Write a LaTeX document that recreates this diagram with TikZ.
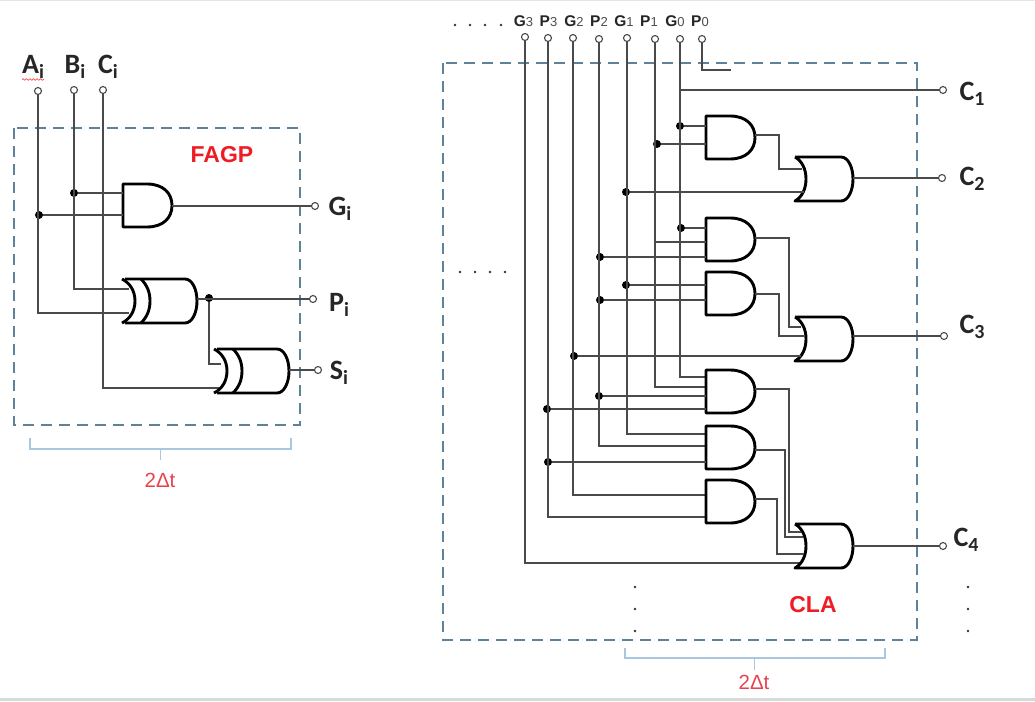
\documentclass[tikz,border=0pt]{standalone}
\usepackage{xcolor}
\usepackage{fontspec}
\setmainfont{Liberation Sans}
\newfontfamily\carlito{Carlito}
\usetikzlibrary{positioning,decorations.pathmorphing}
\definecolor{boxblue}{HTML}{5F8299}
\definecolor{bracketblue}{HTML}{A9C8E0}
\definecolor{wiregray}{HTML}{4A4A4A}
\definecolor{labelred}{HTML}{EE1C25}
\definecolor{timered}{HTML}{E8424F}
\newcommand{\andgate}[4]{%
    % #1=name, #2=left x, #3=top y, #4=output y
    \node[gatebox, minimum width=49pt, minimum height=43pt] (#1) at (#2+24.5,#3+21.5) {};
    \draw[gateline] (#2,#3) -- (#2+24,#3) .. controls (#2+40,#3) and (#2+49,#3+9) .. (#2+49,#3+21.5)
        .. controls (#2+49,#3+34) and (#2+40,#3+43) .. (#2+24,#3+43) -- (#2,#3+43) -- cycle;
    \coordinate (#1-out) at (#2+49,#4);
}
\newcommand{\orgate}[4]{%
    % #1=name, #2=tip x, #3=top y, #4=output y
    \node[gatebox, minimum width=58pt, minimum height=44pt] (#1) at (#2+29,#3+22) {};
    \draw[gateline] (#2,#3) -- (#2+46,#3) .. controls (#2+53,#3) and (#2+58,#3+10) .. (#2+58,#3+22)
        .. controls (#2+58,#3+34) and (#2+53,#3+44) .. (#2+46,#3+44) -- (#2,#3+44)
        .. controls (#2+7,#3+40) and (#2+11,#3+32) .. (#2+11,#3+22)
        .. controls (#2+11,#3+12) and (#2+7,#3+4) .. (#2,#3);
    \coordinate (#1-out) at (#2+58,#4);
}
\newcommand{\xorgate}[4]{%
    % #1=name, #2=tip x, #3=top y, #4=output y
    \node[gatebox, minimum width=76pt, minimum height=44pt] (#1) at (#2+38,#3+22) {};
    \draw[gateline] (#2+3,#3) -- (#2+63,#3) .. controls (#2+70,#3) and (#2+75,#3+10) .. (#2+75,#3+22)
        .. controls (#2+75,#3+34) and (#2+70,#3+44) .. (#2+63,#3+44) -- (#2+3,#3+44);
    \draw[gateline] (#2,#3) .. controls (#2+8,#3+4) and (#2+13,#3+12) .. (#2+13,#3+22)
        .. controls (#2+13,#3+32) and (#2+8,#3+40) .. (#2,#3+44);
    \draw[gateline] (#2+19,#3) .. controls (#2+25,#3+6) and (#2+28,#3+13) .. (#2+28,#3+22)
        .. controls (#2+28,#3+31) and (#2+25,#3+38) .. (#2+19,#3+44);
    \coordinate (#1-out) at (#2+75,#4);
}
\newcommand{\pinname}[2]{#1{\fontsize{13}{13}\selectfont\mdseries\color{black!70}#2}}
\newcommand{\sidename}[2]{#1\raisebox{-5.5pt}{\fontsize{20}{20}\selectfont #2}}

\begin{document}
\begin{tikzpicture}[x=1pt, y=-1pt,
    gatebox/.style={inner sep=0pt, outer sep=0pt},
    gateline/.style={draw=black, line width=2.9pt, line join=round},
    wire/.style={draw=wiregray, line width=1.2pt},
    sysbox/.style={draw=boxblue, line width=2pt, dash pattern=on 11pt off 7pt},
    bracket/.style={draw=bracketblue, line width=1.8pt},
    term/.style={circle, draw=wiregray, fill=white, line width=1.1pt, minimum size=7pt, inner sep=0pt},
    jdot/.style={circle, fill=black, minimum size=8pt, inner sep=0pt},
    smalldot/.style={circle, fill=black!80, minimum size=2.8pt, inner sep=0pt},
    pinlabel/.style={font=\carlito\bfseries\fontsize{28}{28}\selectfont, text=black!85},
    toplabel/.style={font=\bfseries\fontsize{15.5}{15.5}\selectfont, text=black!85, inner sep=0pt},
    boxlabel/.style={font=\bfseries\fontsize{23}{23}\selectfont, text=labelred},
    timelabel/.style={font=\fontsize{20.5}{20.5}\selectfont, text=timered}
]
    \useasboundingbox (0,0) rectangle (1035,701);
    \fill[black!15] (0,698) rectangle (1035,701);
    \fill[black!10] (0,0) rectangle (1035,1);

    % FAGP block
    \draw[sysbox] (14,128) rectangle (300,425);
    \node[boxlabel] (fagp) at (222,155) {FAGP};

    \node[term] (tA) at (38,91) {};
    \node[term] (tB) at (74,90) {};
    \node[term] (tC) at (103,90) {};
    \node[term] (tGi) at (315,206) {};
    \node[term] (tPi) at (313,299) {};
    \node[term] (tSi) at (318,370) {};
    \node[pinlabel] (lA) at (33,67) {\sidename{A}{i}};
    \node[pinlabel] (lB) at (75,67) {\sidename{B}{i}};
    \node[pinlabel] (lC) at (108,67) {\sidename{C}{i}};
    \node[pinlabel] (lGi) at (340,209) {\sidename{G}{i}};
    \node[pinlabel] (lPi) at (339,305) {\sidename{P}{i}};
    \node[pinlabel] (lSi) at (339,373) {\sidename{S}{i}};
    \draw[red!70, line width=0.7pt, decorate, decoration={snake, amplitude=0.8pt, segment length=3.5pt}] (22,79.5) -- (44,79.5);

    \node[jdot] (dBi) at (74,193) {};
    \node[jdot] (dAi) at (39,215) {};
    \node[jdot] (dPi) at (209,298) {};
    \coordinate (x1-i1) at (129,289);
    \coordinate (x1-i2) at (129,313);
    \coordinate (x2-i1) at (221,364);
    \coordinate (x2-i2) at (219,388);

    \draw[wire] (tA) |- (x1-i2);
    \draw[wire] (tB) |- (x1-i1);
    \draw[wire] (tC) |- (x2-i2);
    \draw[wire] (dPi) |- (x2-i1);
    \andgate{g1}{123}{184}{206}
    \xorgate{x1}{122}{279}{299}
    \xorgate{x2}{214}{349}{370}
    \draw[wire] (dBi) -- (dBi -| g1.west);
    \draw[wire] (dAi) -- (dAi -| g1.west);
    \draw[wire] (g1-out) -- (tGi);
    \draw[wire] (x1-out) -- (tPi);
    \draw[wire] (x2-out) -- (tSi);

    \draw[bracket] (30,438) -- (30,449) -- (291,449) -- (291,438);
    \draw[bracket] (160.5,449) -- (160.5,460);
    \node[timelabel] (tfagp) at (160,480) {2Δt};

    % CLA block
    \draw[sysbox] (443,63) rectangle (917,640);
    \node[boxlabel] (cla) at (813,605) {CLA};

    \node[smalldot] (a1) at (455,25) {};
    \node[smalldot] (a2) at (470,25) {};
    \node[smalldot] (a3) at (485,25) {};
    \node[smalldot] (a4) at (501,25) {};
    \node[smalldot] (b1) at (460,272) {};
    \node[smalldot] (b2) at (475,272) {};
    \node[smalldot] (b3) at (490,272) {};
    \node[smalldot] (b4) at (505,272) {};
    \node[smalldot] (c1) at (635,587) {};
    \node[smalldot] (c2) at (635,609) {};
    \node[smalldot] (c3) at (635,631) {};
    \node[smalldot] (e1) at (968,587) {};
    \node[smalldot] (e2) at (968,609) {};
    \node[smalldot] (e3) at (968,631) {};

    \node[toplabel] (lG3) at (523.5,21) {\pinname{G}{3}};
    \node[toplabel] (lP3) at (548.5,21) {\pinname{P}{3}};
    \node[toplabel] (lG2) at (574,21) {\pinname{G}{2}};
    \node[toplabel] (lP2) at (599,21) {\pinname{P}{2}};
    \node[toplabel] (lG1) at (624,21) {\pinname{G}{1}};
    \node[toplabel] (lP1) at (649,21) {\pinname{P}{1}};
    \node[toplabel] (lG0) at (675,21) {\pinname{G}{0}};
    \node[toplabel] (lP0) at (700,21) {\pinname{P}{0}};

    \node[term] (tG3) at (525,37) {};
    \node[term] (tP3) at (548,38) {};
    \node[term] (tG2) at (573,38) {};
    \node[term] (tP2) at (599,39) {};
    \node[term] (tG1) at (627,38) {};
    \node[term] (tP1) at (655,39) {};
    \node[term] (tG0) at (680,39) {};
    \node[term] (tP0) at (702,39) {};

    \node[term] (tC1) at (943,90) {};
    \node[term] (tC2) at (942,178) {};
    \node[term] (tC3) at (944,336) {};
    \node[term] (tC4) at (943,546) {};
    \node[pinlabel] (lC1) at (972,94) {\sidename{C}{1}};
    \node[pinlabel] (lC2) at (972,179) {\sidename{C}{2}};
    \node[pinlabel] (lC3) at (972,327) {\sidename{C}{3}};
    \node[pinlabel] (lC4) at (966,540) {\sidename{C}{4}};

    \node[jdot] (d1) at (680,126) {};
    \node[jdot] (d2) at (657,144) {};
    \node[jdot] (d3) at (626,192) {};
    \node[jdot] (d4) at (681,228) {};
    \node[jdot] (d5) at (600,257) {};
    \node[jdot] (d6) at (626,285) {};
    \node[jdot] (d7) at (600,300) {};
    \node[jdot] (d8) at (574,356) {};
    \node[jdot] (d9) at (599,396) {};
    \node[jdot] (d10) at (547,409) {};
    \node[jdot] (d11) at (548,462) {};

    \coordinate (p0end) at (731,70);
    \coordinate (a2-i2) at (706,242);
    \coordinate (a4-i1) at (706,377);
    \coordinate (a4-i2) at (706,387);
    \coordinate (a5-i1) at (706,434);
    \coordinate (a5-i2) at (706,446);
    \coordinate (a6-i1) at (706,495);
    \coordinate (a6-i2) at (706,517);
    \coordinate (o2-i1) at (802,169);
    \coordinate (o2-i2) at (804,192);
    \coordinate (o3-i1) at (801,327);
    \coordinate (o3-i2) at (804,336);
    \coordinate (o3-i3) at (801,356);
    \coordinate (o4-i1) at (801,532);
    \coordinate (o4-i2) at (803,537);
    \coordinate (o4-i3) at (804,554);
    \coordinate (o4-i4) at (800,563);

    % pin wires
    \draw[wire] (tP0) |- (p0end);
    \draw[wire] (tG0) |- (a4-i1);
    \draw[wire] (tP1) |- (a4-i2);
    \draw[wire] (tG1) |- (a5-i1);
    \draw[wire] (tP2) |- (a5-i2);
    \draw[wire] (tG2) |- (a6-i1);
    \draw[wire] (tP3) |- (a6-i2);
    \draw[wire] (tG3) |- (o4-i4);
    \draw[wire] (tG0 |- tC1) -- (tC1);

    \andgate{a1g}{706}{116}{135}
    \andgate{a2g}{706}{218}{238}
    \andgate{a3g}{706}{272}{294}
    \andgate{a4g}{706}{370}{389}
    \andgate{a5g}{706}{426}{450}
    \andgate{a6g}{706}{480}{499}
    \orgate{o2}{795}{157}{178}
    \orgate{o3}{795}{317}{336}
    \orgate{o4}{795}{524}{546}

    % gate inputs
    \draw[wire] (d1) -- (d1 -| a1g.west);
    \draw[wire] (d2) -- (d2 -| a1g.west);
    \draw[wire] (d3) -- (o2-i2);
    \draw[wire] (d4) -- (d4 -| a2g.west);
    \draw[wire] (tP1 |- a2-i2) -- (a2-i2);
    \draw[wire] (d5) -- (d5 -| a2g.west);
    \draw[wire] (d6) -- (d6 -| a3g.west);
    \draw[wire] (d7) -- (d7 -| a3g.west);
    \draw[wire] (d8) -- (o3-i3);
    \draw[wire] (d9) -- (d9 -| a4g.west);
    \draw[wire] (d10) -- (d10 -| a4g.west);
    \draw[wire] (d11) -- (d11 -| a5g.west);

    % gate outputs
    \draw[wire] (a1g-out) -- ++(24,0) |- (o2-i1);
    \draw[wire] (a2g-out) -- ++(34,0) |- (o3-i1);
    \draw[wire] (a3g-out) -- ++(24,0) |- (o3-i2);
    \draw[wire] (a4g-out) -- ++(34,0) |- (o4-i1);
    \draw[wire] (a5g-out) -- ++(30,0) |- (o4-i2);
    \draw[wire] (a6g-out) -- ++(22,0) |- (o4-i3);
    \draw[wire] (o2-out) -- (tC2);
    \draw[wire] (o3-out) -- (tC3);
    \draw[wire] (o4-out) -- (tC4);

    \draw[bracket] (625,648) -- (625,658) -- (885,658) -- (885,648);
    \draw[bracket] (754.5,658) -- (754.5,670);
    \node[timelabel] (tcla) at (754,682) {2Δt};
\end{tikzpicture}
\end{document}
